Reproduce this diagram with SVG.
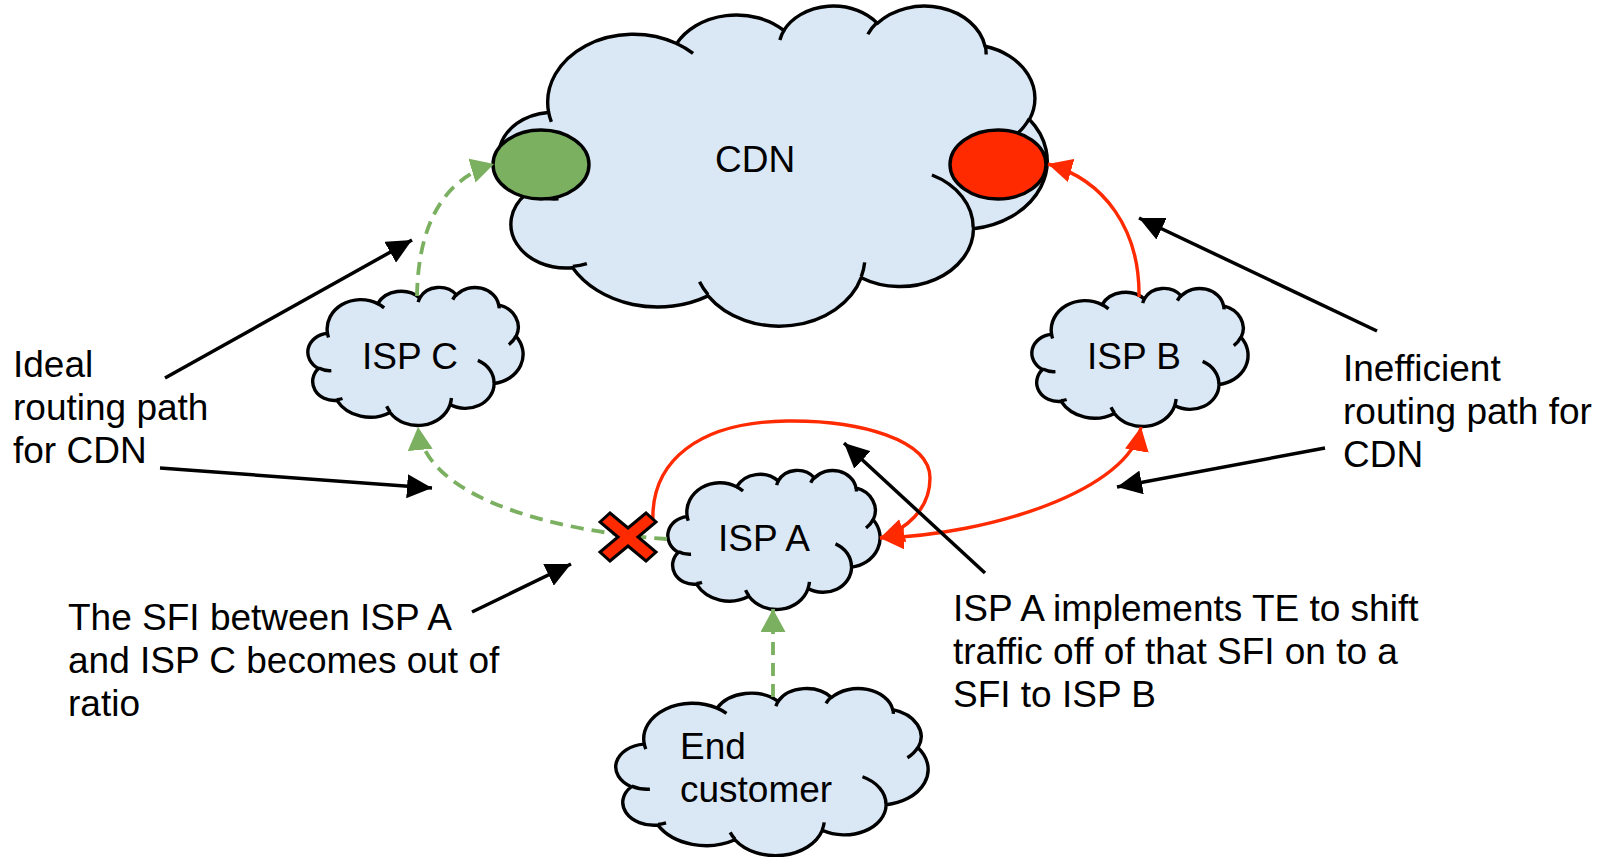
<svg xmlns="http://www.w3.org/2000/svg" width="1604" height="857" viewBox="0 0 1604 857">
<style>
  .cloud-fill { fill:#DAE8F6; stroke:#000; stroke-width:3.4; stroke-linejoin:round; }
  .cloud-inner { fill:none; stroke:#000; stroke-width:3.4; }
  text { font-family:"Liberation Sans", Arial, sans-serif; font-size:37px; fill:#000; }
  .blk { stroke:#000; stroke-width:3.5; fill:none; }
  .grn { stroke:#7BB061; stroke-width:3.8; fill:none; stroke-dasharray:13 8; }
  .red { stroke:#FF2A00; stroke-width:3.4; fill:none; }
</style>
<defs>
  <marker id="ahB" viewBox="0 0 25 24" refX="25" refY="12" markerWidth="25" markerHeight="24" markerUnits="userSpaceOnUse" orient="auto-start-reverse">
    <path d="M0,0 L25,12 L0,24 Z" fill="#000"/>
  </marker>
  <marker id="ahG" viewBox="0 0 23 25" refX="23" refY="12.5" markerWidth="23" markerHeight="25" markerUnits="userSpaceOnUse" orient="auto-start-reverse">
    <path d="M0,0 L23,12.5 L0,25 Z" fill="#7BB061"/>
  </marker>
  <marker id="ahR" viewBox="0 0 24 24" refX="24" refY="12" markerWidth="24" markerHeight="24" markerUnits="userSpaceOnUse" orient="auto-start-reverse">
    <path d="M0,0 L24,12 L0,24 Z" fill="#FF2A00"/>
  </marker>
  <g id="cloud">
    <path class="cloud-fill" vector-effect="non-scaling-stroke" d="M 39,143.7 A 67.53 91.9 0 0 1 140.05,52.02 A 53.33 72.67 0 0 1 224.56,34.3 A 43.65 59.45 0 0 1 298.33,24.78 A 48.57 65.95 0 0 1 383.18,55.73 A 53.33 72.73 0 0 1 418.18,154.57 A 67.75 92.2 0 0 1 374.04,302.01 A 57.85 78.67 0 0 1 285.55,368.11 A 67.52 92.15 0 0 1 164.8,392.64 A 77.2 105.43 0 0 1 58.03,354.7 A 43.6 59.18 0 0 1 21.12,255.49 A 43.45 59.45 0 0 1 38.62,145.06 Z"/>
    <path class="cloud-inner" vector-effect="non-scaling-stroke" d="M 46.93,261.77 A 43.45 59.45 0 0 1 21.6,253.8 M 69.28,348.99 A 43.6 59.18 0 0 1 58.19,352.81 M 164.78,390.9 A 67.52 92.15 0 0 1 158.1,373.48 M 288.27,347.51 A 67.52 92.15 0 0 1 285.6,366.6 M 341.29,229.54 A 57.85 78.67 0 0 1 373.8,300.9 M 417.98,153.54 A 53.33 72.73 0 0 1 403.5,180.3 M 383.24,54.26 A 48.57 65.95 0 0 1 384,66.9 M 290.78,39.52 A 48.57 65.95 0 0 1 298.2,23.4 M 221.41,47.2 A 43.65 59.45 0 0 1 225,33.31 M 140,51.92 A 67.53 91.9 0 0 1 152.99,65.39 M 41.27,157.89 A 67.53 91.9 0 0 1 39.01,143.71"/>
  </g>
</defs>

<g id="cdn">
  <use href="#cloud" transform="translate(499,5) scale(1.26852,0.74074)"/>
  <ellipse cx="541" cy="164.5" rx="48" ry="34.5" fill="#7BB061" stroke="#000" stroke-width="3.4"/>
  <ellipse cx="998" cy="164.5" rx="48" ry="34.5" fill="#FF2A00" stroke="#000" stroke-width="3.4"/>
  <text x="715" y="172">CDN</text>
</g>

<g id="isp-c">
  <use href="#cloud" transform="translate(308,287) scale(0.49769,0.31944)"/>
  <text x="362" y="369">ISP C</text>
</g>

<g id="isp-b">
  <use href="#cloud" transform="translate(1032,288) scale(0.5,0.31944)"/>
  <text x="1087" y="369">ISP B</text>
</g>

<g id="isp-a">
  <use href="#cloud" transform="translate(668,470) scale(0.49074,0.32176)"/>
  <text x="718" y="551">ISP A</text>
</g>

<g id="end-customer">
  <use href="#cloud" transform="translate(616,688) scale(0.72222,0.38657)"/>
  <text x="680" y="759">End</text>
  <text x="680" y="802">customer</text>
</g>

<g id="label-ideal">
  <text x="13" y="377">Ideal</text>
  <text x="13" y="420">routing path</text>
  <text x="13" y="463">for CDN</text>
</g>

<g id="label-inefficient">
  <text x="1343" y="381">Inefficient</text>
  <text x="1343" y="424">routing path for</text>
  <text x="1343" y="467">CDN</text>
</g>

<g id="label-sfi">
  <text x="68" y="630">The SFI between ISP A</text>
  <text x="68" y="673">and ISP C becomes out of</text>
  <text x="68" y="716">ratio</text>
</g>

<g id="label-te">
  <text x="953" y="621">ISP A implements TE to shift</text>
  <text x="953" y="664">traffic off of that SFI on to a</text>
  <text x="953" y="707">SFI to ISP B</text>
</g>

<g id="connectors">
  <path class="grn" marker-end="url(#ahG)" d="M 417,296 C 418,230 440,180 494,164"/>
  <path class="grn" marker-end="url(#ahG)" d="M 667,539 C 560,532 425,500 418,427"/>
  <path class="grn" marker-end="url(#ahG)" d="M 773,697 L 773,609"/>
  <path class="red" marker-end="url(#ahR)" d="M 1139,297 C 1140,230 1105,180 1048,164"/>
  <path class="red" marker-start="url(#ahR)" marker-end="url(#ahR)" d="M 880,538 C 990,535 1130,490 1141,427"/>
  <path class="red" marker-end="url(#ahR)" d="M 653,523 C 650,460 700,422 787,421 C 860,420 930,440 930,478 C 930,510 905,530 880,538"/>
  <path class="blk" marker-end="url(#ahB)" d="M 165,378 L 412,240"/>
  <path class="blk" marker-end="url(#ahB)" d="M 160,468 L 432,488"/>
  <path class="blk" marker-end="url(#ahB)" d="M 472,612 L 571,564"/>
  <path class="blk" marker-end="url(#ahB)" d="M 985,573 L 844,443"/>
  <path class="blk" marker-end="url(#ahB)" d="M 1377,331 L 1139,218"/>
  <path class="blk" marker-end="url(#ahB)" d="M 1325,448 L 1117,487"/>
</g>

<g id="broken-sfi">
  <polygon transform="translate(628,537)" points="-28,-15 -18,-24 0,-9 18,-24 28,-15 10,0 28,15 18,24 0,9 -18,24 -28,15 -10,0" fill="#FF2A00" stroke="#000" stroke-width="3" stroke-linejoin="miter"/>
</g>
</svg>
